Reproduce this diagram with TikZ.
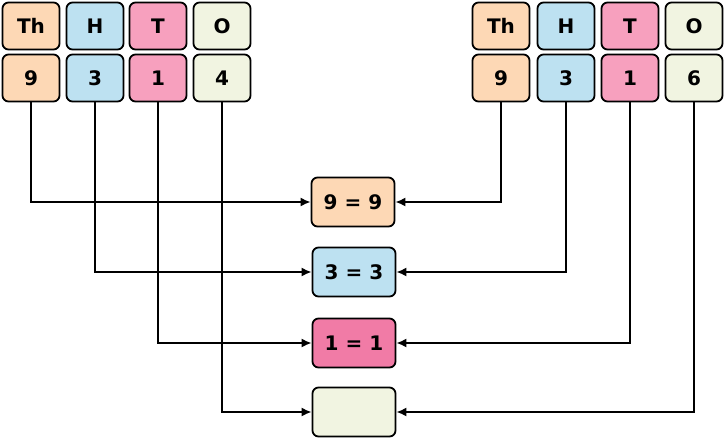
\documentclass[tikz,border=0pt]{standalone}
\usepackage{fontspec}
\setmainfont{DejaVu Sans}
\usetikzlibrary{arrows.meta}
\definecolor{peach}{HTML}{FDD8B5}
\definecolor{sky}{HTML}{BDE1F1}
\definecolor{rose}{HTML}{F7A0BE}
\definecolor{deeprose}{HTML}{F17BA6}
\definecolor{pale}{HTML}{F1F4E1}
\begin{document}
\begin{tikzpicture}[x=1pt,y=-1pt,
    digit/.style={draw,line width=1.8pt,rounded corners=6pt,inner sep=0pt,
      minimum width=57pt,minimum height=47pt,fill=#1,
      font=\fontsize{20}{24}\selectfont\bfseries},
    result/.style={digit=#1,minimum width=83pt,minimum height=49pt},
    link/.style={line width=1.7pt,-{Latex[length=10pt,width=9pt]}}]
  \useasboundingbox (0,0) rectangle (726,440);
  % left number
  \node[digit=peach] (lTh) at (31,26) {Th};
  \node[digit=sky] (lH) at (95,26) {H};
  \node[digit=rose] (lT) at (158,26) {T};
  \node[digit=pale] (lO) at (222,26) {O};
  \node[digit=peach] (l9) at (31,78) {9};
  \node[digit=sky] (l3) at (95,78) {3};
  \node[digit=rose] (l1) at (158,78) {1};
  \node[digit=pale] (l4) at (222,78) {4};
  % right number
  \node[digit=peach] (rTh) at (501,26) {Th};
  \node[digit=sky] (rH) at (566,26) {H};
  \node[digit=rose] (rT) at (630,26) {T};
  \node[digit=pale] (rO) at (694,26) {O};
  \node[digit=peach] (r9) at (501,78) {9};
  \node[digit=sky] (r3) at (566,78) {3};
  \node[digit=rose] (r1) at (630,78) {1};
  \node[digit=pale] (r6) at (694,78) {6};
  % comparisons
  \node[result=peach] (c9) at (353,202) {9 = 9};
  \node[result=sky] (c3) at (354,272) {3 = 3};
  \node[result=deeprose] (c1) at (354,343) {1 = 1};
  \node[result=pale] (c4) at (354,412) {};
  \foreach \a/\b in {l9/c9,l3/c3,l1/c1,l4/c4,r9/c9,r3/c3,r1/c1,r6/c4}
    \draw[link] (\a.south) |- (\b);
\end{tikzpicture}
\end{document}
